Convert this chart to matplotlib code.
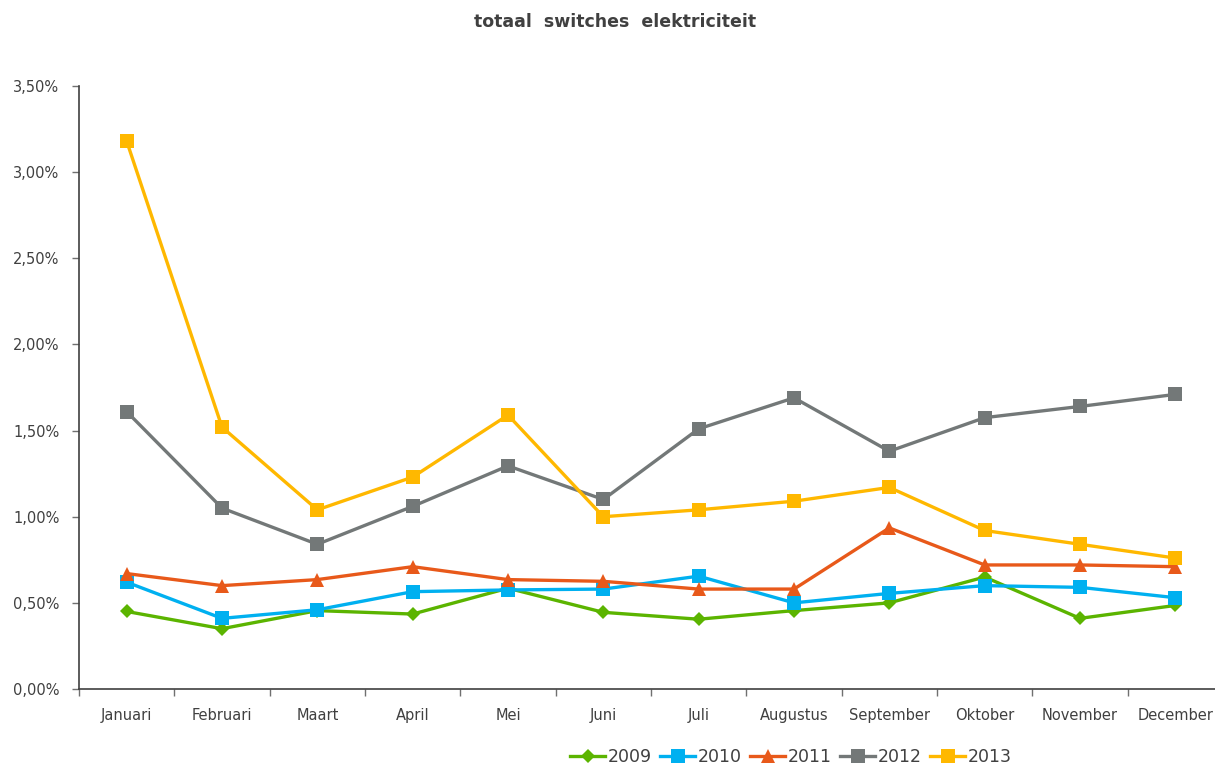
import matplotlib.pyplot as plt
from matplotlib.ticker import FuncFormatter, FixedLocator

maanden = ['Januari', 'Februari', 'Maart', 'April', 'Mei', 'Juni', 'Juli',
           'Augustus', 'September', 'Oktober', 'November', 'December']

# switchpercentages per maand (in %)
s2009 = [0.45, 0.35, 0.455, 0.435, 0.585, 0.445, 0.405, 0.455, 0.50, 0.65, 0.41, 0.485]
s2010 = [0.62, 0.41, 0.46, 0.565, 0.575, 0.58, 0.655, 0.50, 0.555, 0.60, 0.59, 0.53]
s2011 = [0.67, 0.60, 0.635, 0.71, 0.635, 0.625, 0.58, 0.58, 0.935, 0.72, 0.72, 0.71]
s2012 = [1.61, 1.05, 0.84, 1.06, 1.295, 1.10, 1.51, 1.69, 1.38, 1.575, 1.64, 1.71]
s2013 = [3.18, 1.52, 1.04, 1.23, 1.59, 1.00, 1.04, 1.09, 1.17, 0.92, 0.84, 0.76]

jaren = ['2009', '2010', '2011', '2012', '2013']
reeksen = [s2009, s2010, s2011, s2012, s2013]
kleuren = ['#5BB400', '#00B0F0', '#E8591A', '#737878', '#FFB800']
markers = ['D', 's', '^', 's', 's']
msizes = [7.5, 9.5, 10, 9.5, 9.5]

plt.rcParams['font.family'] = ['DejaVu Sans']
tekst = '#404040'
as_kleur = '#404040'

fig = plt.figure(figsize=(12.15, 7.65), dpi=100)
ax = fig.add_axes([79 / 1215, 76 / 765, 1144 / 1215, 603 / 765])

x = range(len(maanden))
for jaar, y, c, m, ms in zip(jaren, reeksen, kleuren, markers, msizes):
    ax.plot(x, y, color=c, linewidth=2.4, marker=m, markersize=ms,
            markeredgewidth=0, label=jaar)

ax.set_xlim(-0.5, 11.5)
ax.set_ylim(0, 3.5)
ax.set_yticks([i * 0.5 for i in range(8)])
ax.yaxis.set_major_formatter(FuncFormatter(lambda v, p: f'{v:.2f}%'.replace('.', ',')))

ax.set_xticks(list(x))
ax.set_xticklabels(maanden)
ax.xaxis.set_minor_locator(FixedLocator([i + 0.5 for i in range(-1, 12)]))
ax.tick_params(axis='x', which='major', length=0, pad=14, labelsize=10.5, labelcolor=tekst)
ax.tick_params(axis='x', which='minor', length=5, width=1, color='#707070')
ax.tick_params(axis='y', length=5, width=1, color='#707070', pad=9,
               labelsize=10.5, labelcolor=tekst)

for kant in ['top', 'right']:
    ax.spines[kant].set_visible(False)
for kant in ['left', 'bottom']:
    ax.spines[kant].set_color(as_kleur)
    ax.spines[kant].set_linewidth(1.2)

fig.text(615 / 1215, 1 - 22 / 765, 'totaal  switches  elektriciteit', ha='center', va='center',
         fontsize=12.5, fontweight='bold', color=tekst)

fig.legend(loc='center', bbox_to_anchor=(791 / 1215, 1 - 757 / 765), ncol=5,
           frameon=False, fontsize=12.5, labelcolor=tekst, handlelength=2.0,
           handletextpad=0.15, columnspacing=0.5, borderaxespad=0)

fig.savefig('out.png', dpi=100)
